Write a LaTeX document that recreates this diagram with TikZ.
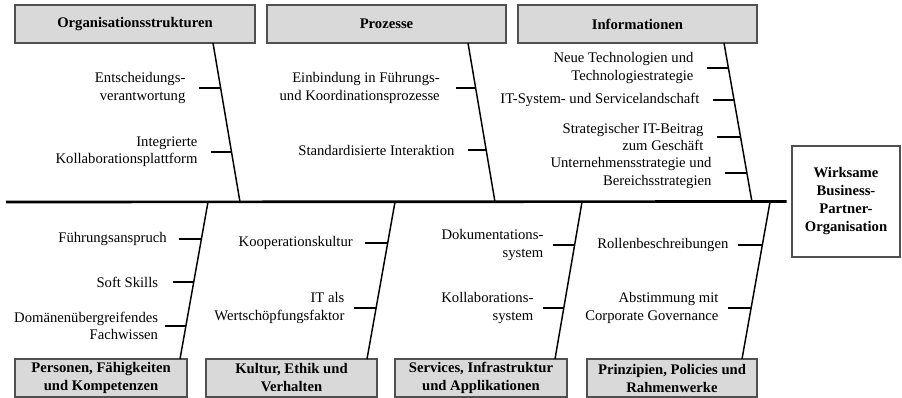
\documentclass[tikz,border=0pt]{standalone}
\usepackage{fontspec}
\setmainfont{Liberation Serif}
\usetikzlibrary{positioning}
\definecolor{boxgray}{HTML}{D9D9D9}
\definecolor{framegray}{HTML}{505050}
\tikzset{
  catbox/.style={draw=framegray, fill=boxgray, line width=1.2pt, font=\fontsize{11}{13.5}\selectfont\bfseries, align=center, minimum height=28.5pt, inner sep=2pt},
  effectbox/.style={draw=framegray, fill=white, line width=1.2pt, font=\fontsize{11}{13.5}\selectfont\bfseries, align=center, minimum width=81pt, minimum height=83pt},
  bone/.style={line width=1.1pt},
  mainbone/.style={line width=2pt},
  cause/.style={align=right, inner sep=1pt, font=\fontsize{11}{12.8}\selectfont}
}
\begin{document}
\begin{tikzpicture}[x=0.75pt, y=-0.75pt]
   \useasboundingbox (0,0) rectangle (902,398);

   % Wirkung und Hauptachse
   \node[effectbox] (effect) at (846,201.5) {Wirksame\\Business-\\Partner-\\Organisation};
   \coordinate (tail) at (6,202);
   \draw[mainbone, shorten >=3.5pt] (tail) -- (effect.west);

   % obere Kategorien
   \node[catbox, minimum width=180pt] (orga) at (135,24) {Organisationsstrukturen};
   \node[catbox, minimum width=179pt] (proz) at (386.5,24) {Prozesse};
   \node[catbox, minimum width=179pt] (info) at (637.5,24) {Informationen};

   \coordinate (orgaT) at (213,43);  \coordinate (orgaB) at (240,202);
   \coordinate (prozT) at (468,43);  \coordinate (prozB) at (495,202);
   \coordinate (infoT) at (724,43);  \coordinate (infoB) at (752,202);
   \draw[bone] (orgaT) -- (orgaB);
   \draw[bone] (prozT) -- (prozB);
   \draw[bone] (infoT) -- (infoB);

   \coordinate (o1) at (199,88);  \coordinate (o1e) at (221,88);
   \coordinate (o2) at (211,152); \coordinate (o2e) at (232,152);
   \draw[bone] (o1) -- (o1e);
   \draw[bone] (o2) -- (o2e);
   \node[cause, left=9pt of o1] (o1txt) {Entscheidungs-\\verantwortung};
   \node[cause, left=9pt of o2] (o2txt) {Integrierte\\Kollaborationsplattform};

   \coordinate (p1) at (456,88);  \coordinate (p1e) at (476,88);
   \coordinate (p2) at (468,150); \coordinate (p2e) at (486,150);
   \draw[bone] (p1) -- (p1e);
   \draw[bone] (p2) -- (p2e);
   \node[cause, left=11pt of p1] (p1txt) {Einbindung in Führungs-\\und Koordinationsprozesse};
   \node[cause, left=9pt of p2] (p2txt) {Standardisierte Interaktion};

   \coordinate (i1) at (707,68);  \coordinate (i1e) at (728.5,68);
   \coordinate (i2) at (713,100); \coordinate (i2e) at (734,100);
   \coordinate (i3) at (717,137); \coordinate (i3e) at (741,137);
   \coordinate (i4) at (725,173); \coordinate (i4e) at (747,173);
   \draw[bone] (i1) -- (i1e);
   \draw[bone] (i2) -- (i2e);
   \draw[bone] (i3) -- (i3e);
   \draw[bone] (i4) -- (i4e);
   \node[cause, left=9pt of i1] (i1txt) {Neue Technologien und\\Technologiestrategie};
   \node[cause, left=9pt of i2] (i2txt) {IT-System- und Servicelandschaft};
   \node[cause, left=9pt of i3] (i3txt) {Strategischer IT-Beitrag\\zum Geschäft};
   \node[cause, left=9pt of i4] (i4txt) {Unternehmensstrategie und\\Bereichsstrategien};

   % untere Kategorien
   \node[catbox, minimum width=129pt] (pers) at (101,378) {Personen, Fähigkeiten\\und Kompetenzen};
   \node[catbox, minimum width=128pt] (kult) at (291.5,378) {Kultur, Ethik und\\Verhalten};
   \node[catbox, minimum width=129pt] (serv) at (481,378) {Services, Infrastruktur\\und Applikationen};
   \node[catbox, minimum width=127.5pt] (prin) at (672,378) {Prinzipien, Policies und\\Rahmenwerke};

   \coordinate (persT) at (208,202); \coordinate (persB) at (180,359);
   \coordinate (kultT) at (395,202); \coordinate (kultB) at (367,359);
   \coordinate (servT) at (582,202); \coordinate (servB) at (555,359);
   \coordinate (prinT) at (770,202); \coordinate (prinB) at (742,359);
   \draw[bone] (persT) -- (persB);
   \draw[bone] (kultT) -- (kultB);
   \draw[bone] (servT) -- (servB);
   \draw[bone] (prinT) -- (prinB);

   \coordinate (f1) at (179,239); \coordinate (f1e) at (201,239);
   \coordinate (f2) at (173,282); \coordinate (f2e) at (194,282);
   \coordinate (f3) at (165,326); \coordinate (f3e) at (186,326);
   \draw[bone] (f1) -- (f1e);
   \draw[bone] (f2) -- (f2e);
   \draw[bone] (f3) -- (f3e);
   \node[cause, left=8pt of f1] (f1txt) {Führungsanspruch};
   \node[cause, left=10pt of f2] (f2txt) {Soft Skills};
   \node[cause, left=4pt of f3] (f3txt) {Domänenübergreifendes\\Fachwissen};

   \coordinate (k1) at (365,243); \coordinate (k1e) at (387.5,243);
   \coordinate (k2) at (354,308); \coordinate (k2e) at (376,308);
   \draw[bone] (k1) -- (k1e);
   \draw[bone] (k2) -- (k2e);
   \node[cause, left=8pt of k1] (k1txt) {Kooperationskultur};
   \node[cause, left=6pt of k2] (k2txt) {IT als\\Wertschöpfungsfaktor};

   \coordinate (s1) at (553,245); \coordinate (s1e) at (574.5,245);
   \coordinate (s2) at (543,308); \coordinate (s2e) at (563.5,308);
   \draw[bone] (s1) -- (s1e);
   \draw[bone] (s2) -- (s2e);
   \node[cause, left=6pt of s1] (s1txt) {Dokumentations-\\system};
   \node[cause, left=6pt of s2] (s2txt) {Kollaborations-\\system};

   \coordinate (r1) at (738,245); \coordinate (r1e) at (762,245);
   \coordinate (r2) at (728,308); \coordinate (r2e) at (751,308);
   \draw[bone] (r1) -- (r1e);
   \draw[bone] (r2) -- (r2e);
   \node[cause, left=6pt of r1] (r1txt) {Rollenbeschreibungen};
   \node[cause, left=6pt of r2] (r2txt) {Abstimmung mit\\Corporate Governance};
\end{tikzpicture}
\end{document}
